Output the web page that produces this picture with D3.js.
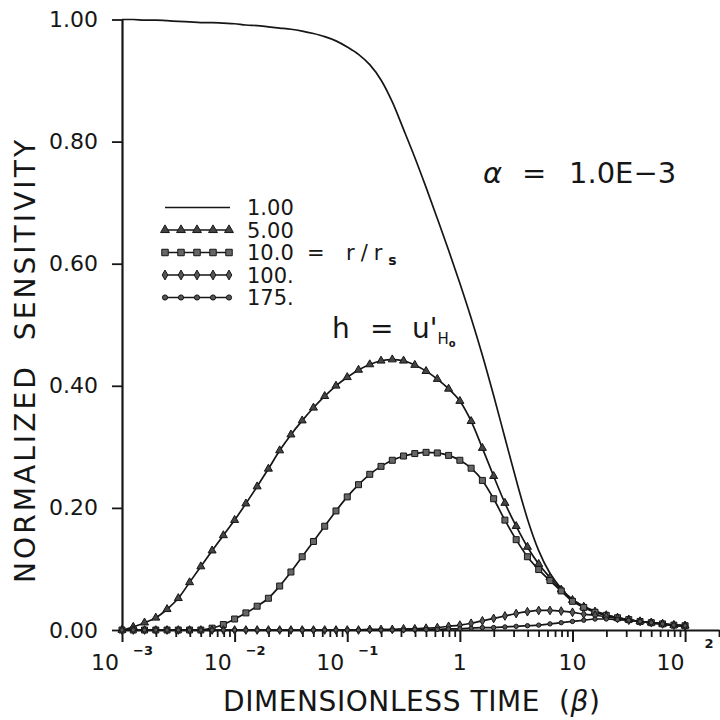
<!DOCTYPE html>
<html>
<head>
<meta charset="utf-8">
<script src="https://cdn.jsdelivr.net/npm/d3@7"></script>
<style>
  body { margin: 0; background: #fff; }
  svg { display: block; font-family: "DejaVu Sans", sans-serif; }
</style>
</head>
<body>
<div id="chart"></div>
<script>
// log10(beta) grid the curves were read at
const logBeta = [-3.0,-2.9,-2.8,-2.7,-2.6,-2.5,-2.4,-2.3,-2.2,-2.1,
                 -2.0,-1.9,-1.8,-1.7,-1.6,-1.5,-1.4,-1.3,-1.2,-1.1,
                 -1.0,-0.9,-0.8,-0.7,-0.6,-0.5,-0.4,-0.3,-0.2,-0.1,
                  0.0, 0.1, 0.2, 0.3, 0.4, 0.5, 0.6, 0.7, 0.8, 0.9,
                  1.0, 1.1, 1.2, 1.3, 1.4, 1.5, 1.6, 1.7, 1.8, 1.9, 2.0];

// r/rs = 1.00 (plain line)
const sens1 = [1.000,1.000,0.999,0.999,0.998,0.997,0.996,0.995,0.995,0.994,
               0.993,0.991,0.990,0.988,0.986,0.984,0.981,0.977,0.972,0.965,
               0.955,0.943,0.926,0.901,0.865,0.820,0.774,0.725,0.674,0.622,
               0.568,0.511,0.450,0.384,0.315,0.246,0.182,0.130,0.093,0.068,
               0.050,0.039,0.031,0.025,0.020,0.017,0.014,0.012,0.010,0.008,0.007];
// r/rs = 5.00 (triangles)
const sens5 = [0.000,0.005,0.012,0.020,0.034,0.052,0.078,0.104,0.130,0.155,
               0.180,0.207,0.235,0.264,0.294,0.320,0.343,0.364,0.383,0.400,
               0.414,0.426,0.435,0.441,0.443,0.441,0.434,0.424,0.411,0.395,
               0.375,0.342,0.298,0.252,0.208,0.170,0.136,0.108,0.086,0.066,
               0.049,0.038,0.030,0.024,0.020,0.017,0.014,0.012,0.010,0.008,0.007];
// r/rs = 10.0 (squares)
const sens10 = [0.000,0.000,0.000,0.000,0.000,0.000,0.000,0.000,0.003,0.009,
                0.018,0.028,0.039,0.052,0.072,0.095,0.120,0.145,0.170,0.195,
                0.218,0.238,0.255,0.268,0.278,0.285,0.289,0.291,0.290,0.286,
                0.278,0.265,0.245,0.215,0.180,0.148,0.120,0.099,0.081,0.064,
                0.047,0.037,0.029,0.024,0.020,0.017,0.014,0.012,0.010,0.008,0.007];
// r/rs = 100.
const sens100 = [0,0,0,0,0,0,0,0,0,0,
                 0,0,0,0,0,0,0,0,0,0,
                 0,0,0.001,0.001,0.001,0.002,0.002,0.003,0.004,0.006,
                 0.008,0.011,0.015,0.019,0.023,0.027,0.030,0.032,0.032,0.031,
                 0.029,0.026,0.024,0.022,0.019,0.016,0.014,0.012,0.010,0.008,0.007];
// r/rs = 175.
const sens175 = [0,0,0,0,0,0,0,0,0,0,
                 0,0,0,0,0,0,0,0,0,0,
                 0,0,0,0,0,0,0.001,0.001,0.001,0.002,
                 0.002,0.003,0.004,0.004,0.005,0.006,0.007,0.008,0.010,0.012,
                 0.014,0.016,0.018,0.018,0.017,0.016,0.014,0.012,0.010,0.008,0.007];

const seriesLabels = ["1.00", "5.00", "10.0", "100.", "175."];
const yTicks = [0, 0.2, 0.4, 0.6, 0.8, 1.0];
const xMajorExp = [-3, -2, -1, 0, 1, 2];

const ink = "#161616";
const width = 720, height = 720;

const svg = d3.select("#chart").append("svg")
    .attr("width", width)
    .attr("height", height);

const x = d3.scaleLog().domain([1e-3, 200]).range([122, 719]);
const y = d3.scaleLinear().domain([0, 1]).range([630, 19.5]);

// axes
const minorTicks = [];
for (let e = -3; e <= 2; e++)
  for (let m = 2; m <= 9; m++) {
    const v = m * Math.pow(10, e);
    if (v <= 200) minorTicks.push(v);
  }

svg.append("g")
    .attr("transform", "translate(0,630)")
    .call(d3.axisBottom(x).tickValues(minorTicks).tickFormat("").tickSize(7).tickSizeOuter(0))
    .call(g => g.select(".domain").attr("stroke-width", 2))
    .call(g => g.selectAll(".tick line").attr("stroke-width", 1.8));

svg.append("g")
    .attr("transform", "translate(0,630)")
    .call(d3.axisBottom(x).tickValues(xMajorExp.map(e => Math.pow(10, e))).tickFormat("").tickSize(12).tickSizeOuter(0))
    .call(g => g.select(".domain").remove())
    .call(g => g.selectAll(".tick line").attr("stroke-width", 2));

svg.append("g")
    .attr("transform", "translate(122,0)")
    .call(d3.axisLeft(y).tickValues(yTicks).tickFormat(d3.format(".2f")).tickSize(10).tickSizeOuter(0).tickPadding(14))
    .call(g => g.select(".domain").attr("stroke-width", 2.2))
    .call(g => g.selectAll(".tick line").attr("stroke-width", 1.8))
    .call(g => g.selectAll(".tick text")
        .attr("font-family", "DejaVu Sans, sans-serif")
        .attr("font-size", 22)
        .attr("fill", ink));

svg.selectAll("path.domain, .tick line").attr("stroke", ink);

// x tick labels, 10 with raised exponent
const xl = svg.append("g").attr("fill", ink);
xMajorExp.forEach(e => {
  const t = xl.append("text")
      .attr("x", x(Math.pow(10, e)))
      .attr("y", 670)
      .attr("text-anchor", "middle")
      .attr("font-size", 22);
  if (e === 0) { t.text("1"); return; }
  t.append("tspan").text("10");
  if (e !== 1) {
    t.append("tspan")
        .attr("dx", e < 0 ? 14 : 20)
        .attr("dy", e < 0 ? -15 : -22)
        .attr("font-size", 13)
        .attr("font-weight", "bold")
        .text(e < 0 ? "\u2212" + (-e) : String(e));
  }
});

// curves
const series = [
  {values: sens1,   symbol: null,               size: 0,  fill: ink},
  {values: sens5,   symbol: d3.symbolTriangle,  size: 28, fill: "#444"},
  {values: sens10,  symbol: d3.symbolSquare,    size: 36, fill: "#666"},
  {values: sens100, symbol: d3.symbolDiamond,   size: 22, fill: "#555"},
  {values: sens175, symbol: d3.symbolCircle,    size: 15, fill: "#555"}
];

const line = d3.line()
    .x(d => x(Math.pow(10, d[0])))
    .y(d => y(d[1]))
    .curve(d3.curveMonotoneX);

const plot = svg.append("g");
series.forEach(s => {
  const pts = logBeta.map((lb, i) => [lb, s.values[i]]);
  plot.append("path")
      .attr("d", line(pts))
      .attr("fill", "none")
      .attr("stroke", ink)
      .attr("stroke-width", 1.7);
  if (s.symbol) {
    plot.append("g")
      .selectAll("path")
      .data(pts)
      .join("path")
        .attr("transform", d => `translate(${x(Math.pow(10, d[0]))},${y(d[1])})`)
        .attr("d", d3.symbol().type(s.symbol).size(s.size))
        .attr("fill", s.fill)
        .attr("stroke", ink)
        .attr("stroke-width", 1);
  }
});

// legend
const legend = svg.append("g");
const legendX = d3.scaleLinear().domain([0, 4]).range([165, 229]);
seriesLabels.forEach((lab, i) => {
  const ly = 207.5 + i * 22.5;
  const s = series[i];
  legend.append("line")
      .attr("x1", 165).attr("x2", 230)
      .attr("y1", ly).attr("y2", ly)
      .attr("stroke", ink).attr("stroke-width", 1.7);
  if (s.symbol) {
    legend.selectAll(null)
      .data(d3.range(5))
      .join("path")
        .attr("transform", k => `translate(${legendX(k)},${ly})`)
        .attr("d", d3.symbol().type(s.symbol).size(s.size + 6))
        .attr("fill", s.fill)
        .attr("stroke", ink)
        .attr("stroke-width", 1);
  }
  legend.append("text")
      .attr("x", 247).attr("y", ly)
      .attr("dy", "0.36em")
      .attr("font-size", 21)
      .attr("fill", ink)
      .text(lab);
});

const rr = legend.append("text")
    .attr("y", 207.5 + 2 * 22.5)
    .attr("dy", "0.36em")
    .attr("font-size", 21)
    .attr("fill", ink);
rr.append("tspan").attr("x", 307).text("=");
rr.append("tspan").attr("x", 346).attr("letter-spacing", 6).text("r/r");
rr.append("tspan").attr("dy", 5).attr("font-size", 14).attr("font-weight", "bold").text("s");

// annotations
const alpha = svg.append("text")
    .attr("y", 183)
    .attr("font-size", 29)
    .attr("fill", ink);
alpha.append("tspan").attr("x", 483).attr("font-style", "italic").text("\u03b1");
alpha.append("tspan").attr("x", 522).text("=");
alpha.append("tspan").attr("x", 569).text("1.0E\u22123");

const hl = svg.append("text")
    .attr("y", 338)
    .attr("font-size", 28)
    .attr("fill", ink);
hl.append("tspan").attr("x", 332).text("h");
hl.append("tspan").attr("x", 370).text("=");
hl.append("tspan").attr("x", 412).text("u'");
hl.append("tspan").attr("dy", 6).attr("font-size", 15).text("H");
hl.append("tspan").attr("dy", 3).attr("font-size", 10).attr("font-weight", "bold").text("o");

// axis titles
svg.append("text")
    .attr("x", 223).attr("y", 711)
    .attr("font-size", 28)
    .attr("fill", ink)
    .attr("textLength", 377)
    .attr("lengthAdjust", "spacing")
    .style("white-space", "pre")
    .call(t => {
      t.append("tspan").text("DIMENSIONLESS TIME  (");
      t.append("tspan").attr("font-style", "italic").text("\u03b2");
      t.append("tspan").text(")");
    });

svg.append("text")
    .attr("transform", "translate(35,361.5) rotate(-90)")
    .attr("text-anchor", "middle")
    .attr("font-size", 28)
    .attr("fill", ink)
    .attr("textLength", 443)
    .attr("lengthAdjust", "spacing")
    .style("white-space", "pre")
    .text("NORMALIZED  SENSITIVITY");
</script>
</body>
</html>
